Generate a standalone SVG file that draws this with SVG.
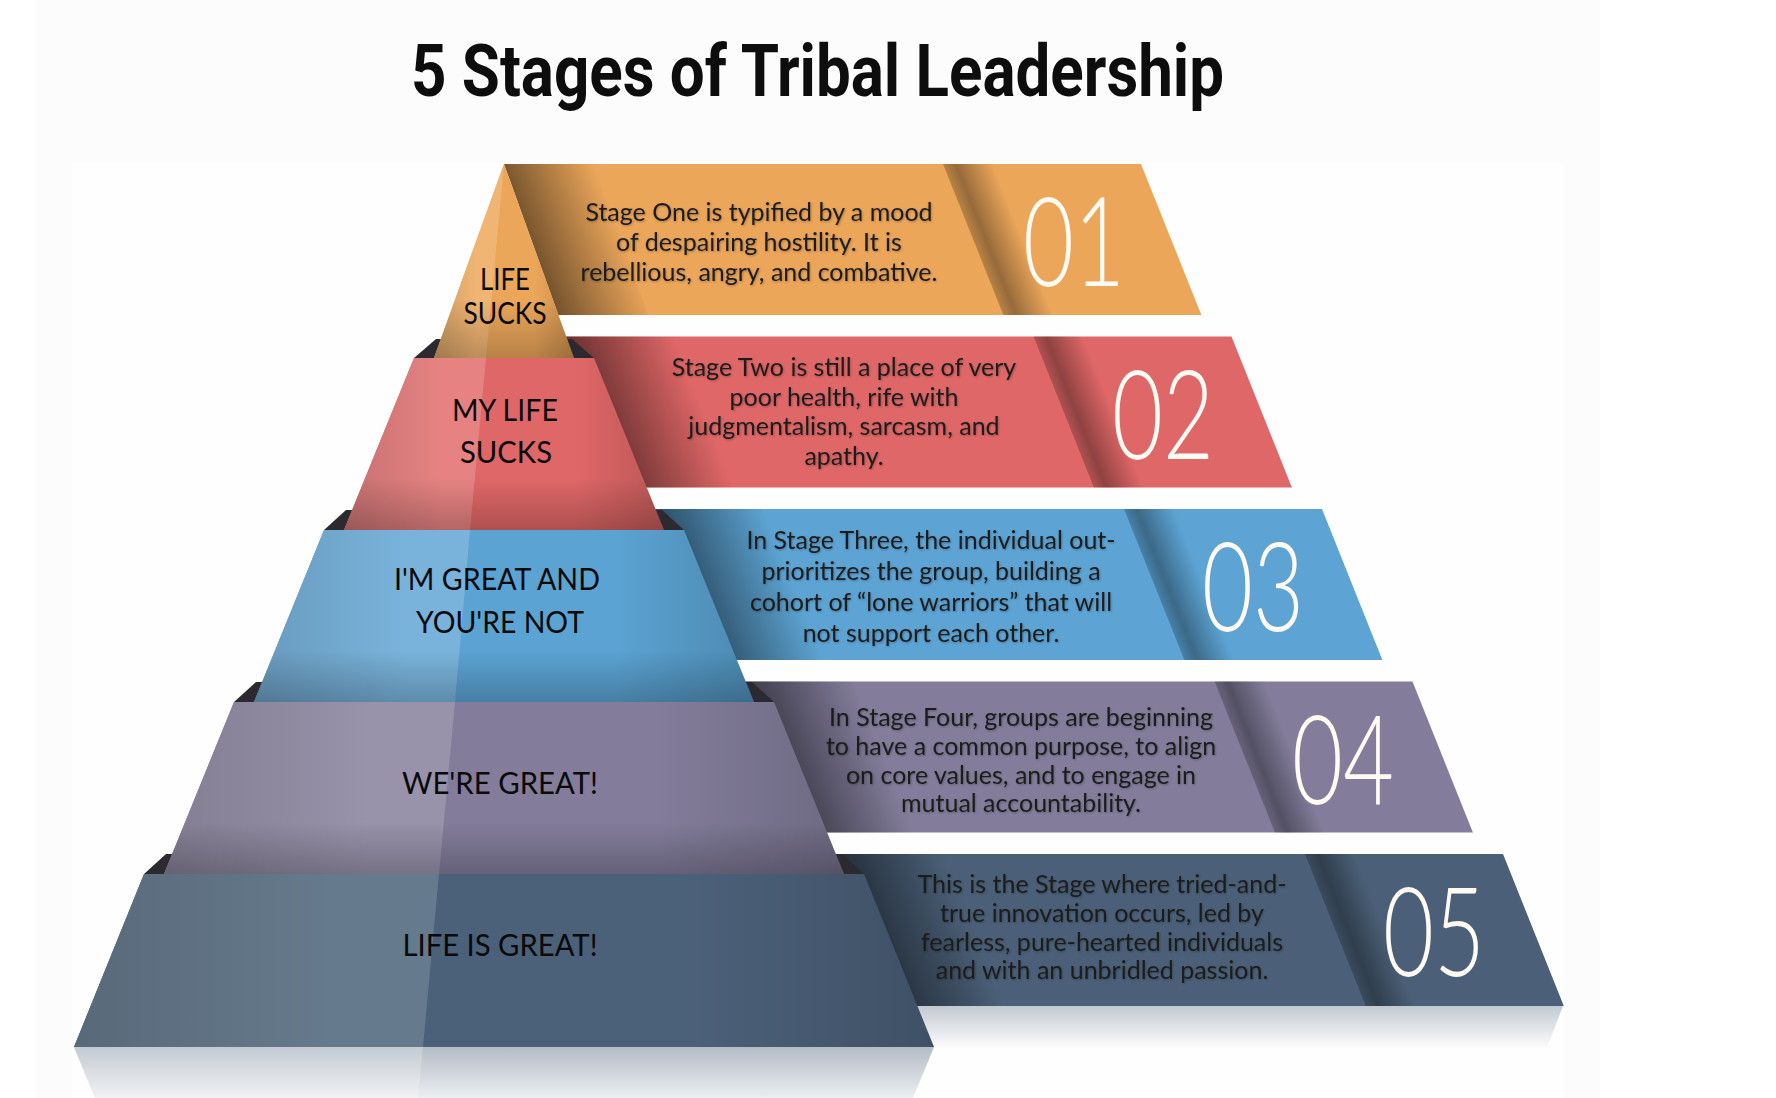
<svg xmlns="http://www.w3.org/2000/svg" width="1776" height="1098" viewBox="0 0 1776 1098">
<defs>
<style>
.title{font-family:Roboto,"Liberation Sans",sans-serif;font-weight:700;font-size:72px;fill:#0d0d0d}
.desc{font-family:Lato,"Open Sans",sans-serif;font-size:25px;fill:#1d1d1d;text-anchor:middle}
.num{font-family:Lato,Roboto,sans-serif;font-weight:300;font-size:125px;fill:#fffaf2;text-anchor:middle}
.lab{font-family:Lato,"Open Sans",sans-serif;font-size:30px;fill:#0a0a0a;text-anchor:middle}
.lip{fill:#2c2a30}
</style>
<linearGradient id="gShadowL" x1="0" y1="0" x2="1" y2="0">
<stop offset="0" stop-color="#000" stop-opacity="0.55"/>
<stop offset="0.25" stop-color="#000" stop-opacity="0.42"/>
<stop offset="1" stop-color="#000" stop-opacity="0"/>
</linearGradient>
<linearGradient id="gShadowL1" x1="0" y1="0" x2="1" y2="0">
<stop offset="0" stop-color="#000" stop-opacity="0.5"/>
<stop offset="1" stop-color="#000" stop-opacity="0"/>
</linearGradient>
<linearGradient id="gFold" x1="0" y1="0" x2="1" y2="0">
<stop offset="0" stop-color="#000" stop-opacity="0.22"/>
<stop offset="0.25" stop-color="#000" stop-opacity="0.36"/>
<stop offset="1" stop-color="#000" stop-opacity="0"/>
</linearGradient>
<linearGradient id="gFaceH" x1="0" y1="0" x2="1" y2="0">
<stop offset="0" stop-color="#000" stop-opacity="0.14"/>
<stop offset="0.3" stop-color="#000" stop-opacity="0"/>
<stop offset="0.72" stop-color="#000" stop-opacity="0"/>
<stop offset="1" stop-color="#000" stop-opacity="0.16"/>
</linearGradient>
<linearGradient id="gFaceV" x1="0" y1="0" x2="0" y2="1">
<stop offset="0" stop-color="#000" stop-opacity="0"/>
<stop offset="0.7" stop-color="#000" stop-opacity="0"/>
<stop offset="1" stop-color="#000" stop-opacity="0.22"/>
</linearGradient>
<linearGradient id="gRefl" x1="0" y1="0" x2="0" y2="1">
<stop offset="0" stop-color="#b4bcc6"/>
<stop offset="1" stop-color="#eceef1"/>
</linearGradient>
<linearGradient id="gRefl2" x1="0" y1="0" x2="0" y2="1">
<stop offset="0" stop-color="#c3c9d1"/>
<stop offset="1" stop-color="#ffffff"/>
</linearGradient>
<filter id="ts" x="-5%" y="-30%" width="110%" height="160%">
<feDropShadow dx="0.8" dy="1" stdDeviation="0.8" flood-color="#000" flood-opacity="0.28"/>
</filter>
</defs>

<rect width="1776" height="1098" fill="#ffffff"/>
<rect x="36" y="0" width="1564" height="1098" fill="#fcfcfc"/>
<rect x="72" y="163" width="1492" height="935" fill="#fefefe"/>

<text id="title" class="title" x="411" y="96" textLength="813" lengthAdjust="spacingAndGlyphs">5 Stages of Tribal Leadership</text>

<!-- reflections -->
<g id="reflections">
<polygon points="900,1006 1563,1006 1546,1050 900,1050" fill="url(#gRefl2)"/>
<polygon points="74,1047 934,1047 913,1098 95,1098" fill="url(#gRefl)"/>
<polygon points="74,1047 423,1047 418,1098 95,1098" fill="#ffffff" opacity="0.22"/>
</g>

<!-- bands -->
<g id="band1">
<g transform="translate(0,164) skewX(21.801)">
<polygon points="504,0 1141,0 1141,151 498,151" fill="#EBA65A"/>
<polygon points="504,0 594,0 588,151 498,151" fill="url(#gShadowL1)"/>
<rect x="943" y="0" width="50" height="151" fill="url(#gFold)"/>
</g>
<g filter="url(#ts)">
<text class="desc" x="759" y="221">Stage One is typified by a mood</text>
<text class="desc" x="759" y="251">of despairing hostility. It is</text>
<text class="desc" x="759" y="281">rebellious, angry, and combative.</text>
</g>
<text class="num" x="1074" y="286" textLength="102" lengthAdjust="spacingAndGlyphs">01</text>
</g>

<g id="band2">
<g transform="translate(0,336.5) skewX(21.801)">
<rect x="559" y="0" width="672.5" height="151" fill="#E06767"/>
<rect x="559" y="0" width="115" height="151" fill="url(#gShadowL)"/>
<rect x="1033.5" y="0" width="50" height="151" fill="url(#gFold)"/>
</g>
<g filter="url(#ts)">
<text class="desc" x="844" y="376">Stage Two is still a place of very</text>
<text class="desc" x="844" y="405.5">poor health, rife with</text>
<text class="desc" x="844" y="435">judgmentalism, sarcasm, and</text>
<text class="desc" x="844" y="464.5">apathy.</text>
</g>
<text class="num" x="1163" y="458.5" textLength="102" lengthAdjust="spacingAndGlyphs">02</text>
</g>

<g id="band3">
<g transform="translate(0,509) skewX(21.801)">
<rect x="649" y="0" width="673" height="151" fill="#5DA4D4"/>
<rect x="649" y="0" width="115" height="151" fill="url(#gShadowL)"/>
<rect x="1124" y="0" width="50" height="151" fill="url(#gFold)"/>
</g>
<g filter="url(#ts)">
<text class="desc" x="931" y="549">In Stage Three, the individual out-</text>
<text class="desc" x="931" y="580">prioritizes the group, building a</text>
<text class="desc" x="931" y="611">cohort of “lone warriors” that will</text>
<text class="desc" x="931" y="642">not support each other.</text>
</g>
<text class="num" x="1253" y="631" textLength="102" lengthAdjust="spacingAndGlyphs">03</text>
</g>

<g id="band4">
<g transform="translate(0,681.5) skewX(21.801)">
<rect x="739" y="0" width="673.5" height="151" fill="#837D9B"/>
<rect x="739" y="0" width="115" height="151" fill="url(#gShadowL)"/>
<rect x="1214.5" y="0" width="50" height="151" fill="url(#gFold)"/>
</g>
<g filter="url(#ts)">
<text class="desc" x="1021" y="726">In Stage Four, groups are beginning</text>
<text class="desc" x="1021" y="755">to have a common purpose, to align</text>
<text class="desc" x="1021" y="784">on core values, and to engage in</text>
<text class="desc" x="1021" y="812">mutual accountability.</text>
</g>
<text class="num" x="1343" y="803.5" textLength="102" lengthAdjust="spacingAndGlyphs">04</text>
</g>

<g id="band5">
<g transform="translate(0,854) skewX(21.801)">
<rect x="829" y="0" width="674" height="152" fill="#4B6078"/>
<rect x="829" y="0" width="115" height="152" fill="url(#gShadowL)"/>
<rect x="1305" y="0" width="50" height="152" fill="url(#gFold)"/>
</g>
<g filter="url(#ts)">
<text class="desc" x="1102" y="893">This is the Stage where tried-and-</text>
<text class="desc" x="1102" y="921.5">true innovation occurs, led by</text>
<text class="desc" x="1102" y="950.5">fearless, pure-hearted individuals</text>
<text class="desc" x="1102" y="979">and with an unbridled passion.</text>
</g>
<text class="num" x="1434" y="976" textLength="102" lengthAdjust="spacingAndGlyphs">05</text>
</g>

<!-- pyramid layers, bottom to top -->
<g id="layer5">
<polygon points="144,874 864,874 934,1047 74,1047" fill="#4B6079"/>
<polygon points="144,874 439,874 423,1047 74,1047" fill="#667A8D"/>
<polygon points="144,874 864,874 934,1047 74,1047" fill="url(#gFaceH)"/>
<polygon class="lip" points="144,874 166,854 842,854 864,874"/>
<text class="lab" x="500" y="956" textLength="195" lengthAdjust="spacingAndGlyphs">LIFE IS GREAT!</text>
</g>

<g id="layer4">
<polygon points="234,702 774,702 844,874 164,874" fill="#837D9B"/>
<polygon points="234,702 455,702 439,874 164,874" fill="#9892AA"/>
<polygon points="234,702 774,702 844,874 164,874" fill="url(#gFaceH)"/>
<polygon points="234,702 774,702 844,874 164,874" fill="url(#gFaceV)"/>
<polygon class="lip" points="234,702 256,682 752,682 774,702"/>
<text class="lab" x="500" y="794" textLength="196" lengthAdjust="spacingAndGlyphs">WE'RE GREAT!</text>
</g>

<g id="layer3">
<polygon points="324,530 684,530 754,702 254,702" fill="#5BA3D3"/>
<polygon points="324,530 470,530 455,702 254,702" fill="#79B3DB"/>
<polygon points="324,530 684,530 754,702 254,702" fill="url(#gFaceH)"/>
<polygon points="324,530 684,530 754,702 254,702" fill="url(#gFaceV)"/>
<polygon class="lip" points="324,530 346,510 662,510 684,530"/>
<text class="lab" x="497" y="590" textLength="206" lengthAdjust="spacingAndGlyphs">I'M GREAT AND</text>
<text class="lab" x="500" y="633" textLength="168" lengthAdjust="spacingAndGlyphs">YOU'RE NOT</text>
</g>

<g id="layer2">
<polygon points="414,358 594,358 664,530 344,530" fill="#E06767"/>
<polygon points="414,358 486,358 470,530 344,530" fill="#E68282"/>
<polygon points="414,358 594,358 664,530 344,530" fill="url(#gFaceH)"/>
<polygon points="414,358 594,358 664,530 344,530" fill="url(#gFaceV)"/>
<polygon class="lip" points="414,358 436,339 572,339 594,358"/>
<text class="lab" x="505" y="421" textLength="106" lengthAdjust="spacingAndGlyphs">MY LIFE</text>
<text class="lab" x="506" y="463" textLength="92" lengthAdjust="spacingAndGlyphs">SUCKS</text>
</g>

<g id="layer1">
<polygon points="504,164 574,358 434,358" fill="#EBA65A"/>
<polygon points="504,164 486,358 434,358" fill="#F0B573"/>
<polygon points="504,164 574,358 434,358" fill="url(#gFaceH)"/>
<polygon points="504,164 574,358 434,358" fill="url(#gFaceV)"/>
<text class="lab" x="505" y="290" textLength="50" lengthAdjust="spacingAndGlyphs">LIFE</text>
<text class="lab" x="505" y="324" textLength="83" lengthAdjust="spacingAndGlyphs">SUCKS</text>
</g>
</svg>
